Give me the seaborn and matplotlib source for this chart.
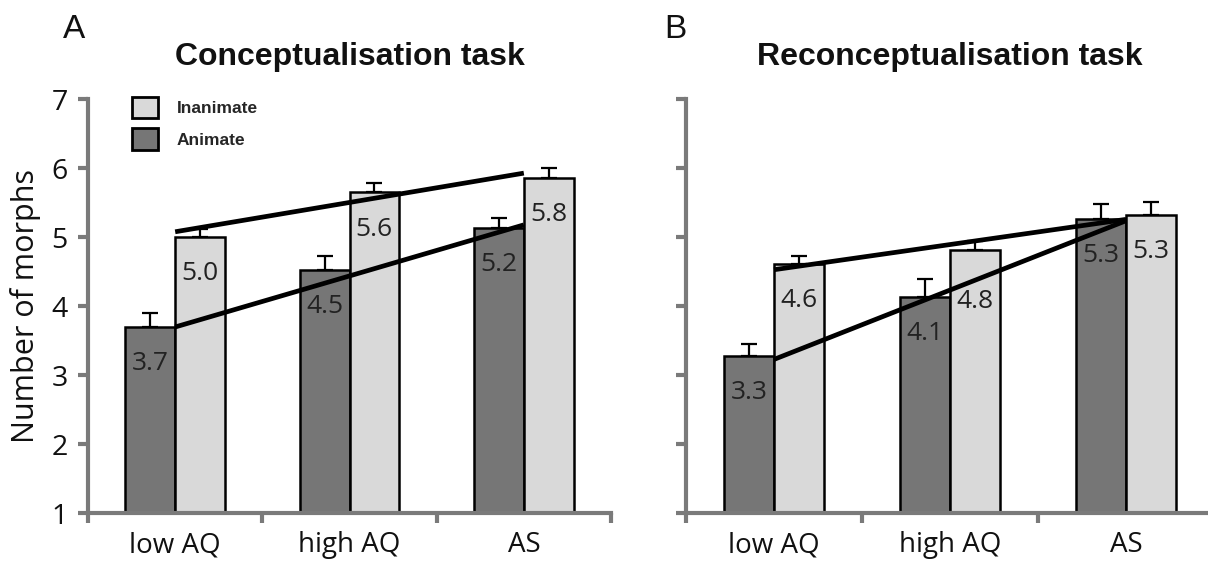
import numpy as np
import pandas as pd
import matplotlib
matplotlib.use("Agg")
import matplotlib.pyplot as plt
import seaborn as sns
from matplotlib.patches import Patch

# ---------------- data ----------------
groups = ["low AQ", "high AQ", "AS"]
conditions = ["Animate", "Inanimate"]

concept_animate = [3.70, 4.53, 5.14]
concept_inanimate = [5.01, 5.65, 5.855]
concept_animate_err = [0.20, 0.20, 0.14]
concept_inanimate_err = [0.11, 0.14, 0.155]
concept_animate_labels = ["3.7", "4.5", "5.2"]
concept_inanimate_labels = ["5.0", "5.6", "5.8"]
concept_animate_trend = [3.70, 5.18]
concept_inanimate_trend = [5.08, 5.93]

reconcept_animate = [3.28, 4.14, 5.26]
reconcept_inanimate = [4.62, 4.82, 5.33]
reconcept_animate_err = [0.18, 0.25, 0.22]
reconcept_inanimate_err = [0.11, 0.13, 0.18]
reconcept_animate_labels = ["3.3", "4.1", "5.3"]
reconcept_inanimate_labels = ["4.6", "4.8", "5.3"]
reconcept_animate_trend = [3.23, 5.24]
reconcept_inanimate_trend = [4.53, 5.26]

titles = ["Conceptualisation task", "Reconceptualisation task"]
panel_letters = ["A", "B"]
y_ticks = [1, 2, 3, 4, 5, 6, 7]
y_label = "Number of morphs"

# ---------------- style ----------------
sns.set_style("white")
plt.rcParams["font.family"] = ["Open Sans", "DejaVu Sans"]

DARK = "#767676"
LIGHT = "#d9d9d9"
SPINE = "#7a7a7a"
palette = {"Animate": DARK, "Inanimate": LIGHT}

fig = plt.figure(figsize=(12.08, 5.65), dpi=100)
W, H = 1208, 565
axA = fig.add_axes([88 / W, (H - 513.3) / H, 523 / W, 414 / H])
axB = fig.add_axes([686 / W, (H - 513.3) / H, 528 / W, 414 / H])

panels = [
    (axA, concept_animate, concept_inanimate, concept_animate_err, concept_inanimate_err,
     concept_animate_labels, concept_inanimate_labels, concept_animate_trend, concept_inanimate_trend),
    (axB, reconcept_animate, reconcept_inanimate, reconcept_animate_err, reconcept_inanimate_err,
     reconcept_animate_labels, reconcept_inanimate_labels, reconcept_animate_trend, reconcept_inanimate_trend),
]

for k, (ax, an, inan, an_err, inan_err, an_lab, inan_lab, an_tr, inan_tr) in enumerate(panels):
    df = pd.DataFrame({
        "group": groups * 2,
        "condition": ["Animate"] * len(groups) + ["Inanimate"] * len(groups),
        "value": list(an) + list(inan),
    })
    sns.barplot(data=df, x="group", y="value", hue="condition", order=groups,
                hue_order=conditions, palette=palette, width=0.57, edgecolor="black",
                linewidth=1.8, errorbar=None, legend=False, ax=ax, zorder=2)

    vals = {"Animate": an, "Inanimate": inan}
    errs = {"Animate": an_err, "Inanimate": inan_err}
    labs = {"Animate": an_lab, "Inanimate": inan_lab}
    for p in ax.patches:
        cx = p.get_x() + p.get_width() / 2
        gi = int(round(cx))
        cond = "Animate" if cx < gi else "Inanimate"
        v = vals[cond][gi]
        e = errs[cond][gi]
        ax.errorbar([cx], [v], yerr=[[0], [e]], fmt="none", ecolor="black",
                    elinewidth=1.6, capsize=5.5, capthick=1.6, zorder=1.5)
        off = 0.53
        if k == 1 and cond == "Inanimate" and gi == 1:
            off = 0.75
        ax.text(cx, v - off, labs[cond][gi], ha="center", va="center",
                fontsize=19, color="#222222", zorder=6)

    xs = [0, len(groups) - 1]
    ax.plot(xs, inan_tr, color="black", lw=3.4, zorder=5, solid_capstyle="butt")
    ax.plot(xs, an_tr, color="black", lw=3.4, zorder=5, solid_capstyle="butt")

    ax.set_xlim(-0.5, len(groups) - 0.5)
    ax.set_ylim(1, 7)
    ax.set_xlabel("")
    ax.set_ylabel("")
    ax.set_xticks(range(len(groups)))
    ax.set_xticklabels(groups)
    ax.set_xticks(np.arange(-0.5, len(groups)), minor=True)
    ax.set_yticks(y_ticks)
    ax.tick_params(axis="x", which="major", length=0, pad=13, labelsize=20, colors="#111111")
    ax.tick_params(axis="x", which="minor", direction="out", length=7.5, width=3, color=SPINE)
    ax.tick_params(axis="y", direction="out", length=7.5, width=3, color=SPINE,
                   pad=7, labelsize=20.5, labelcolor="#111111")
    ax.tick_params(axis="y", which="both", left=True)
    ax.tick_params(axis="x", which="both", bottom=True)
    for s in ["top", "right"]:
        ax.spines[s].set_visible(False)
    for s in ["left", "bottom"]:
        ax.spines[s].set_color(SPINE)
        ax.spines[s].set_linewidth(3)
        ax.spines[s].set_zorder(7)
    ax.set_title(titles[k], fontsize=23, fontweight="bold", family="Liberation Sans",
                 pad=25, color="#111111")
    if k == 1:
        ax.set_yticklabels([])
    else:
        ax.set_ylabel(y_label, fontsize=22, color="#111111")
        ax.yaxis.set_label_coords(-0.09, 0.5)

# legend (panel A)
handles = [Patch(facecolor=LIGHT, edgecolor="black", linewidth=2),
           Patch(facecolor=DARK, edgecolor="black", linewidth=2)]
axA.legend(handles, ["Inanimate", "Animate"], loc="upper left",
           bbox_to_anchor=(43.7 / 523, 1.006), frameon=False, borderpad=0,
           borderaxespad=0, handlelength=1.5, handleheight=1.5, handletextpad=1.1,
           labelspacing=0.6, prop={"family": "Liberation Sans", "weight": "bold", "size": 12.5})

fig.text(63 / W, 1 - 14 / H, panel_letters[0], ha="left", va="top", fontsize=24,
         family="Liberation Sans", color="#111111")
fig.text(664 / W, 1 - 14 / H, panel_letters[1], ha="left", va="top", fontsize=24,
         family="Liberation Sans", color="#111111")

fig.savefig("out.png", dpi=100)
